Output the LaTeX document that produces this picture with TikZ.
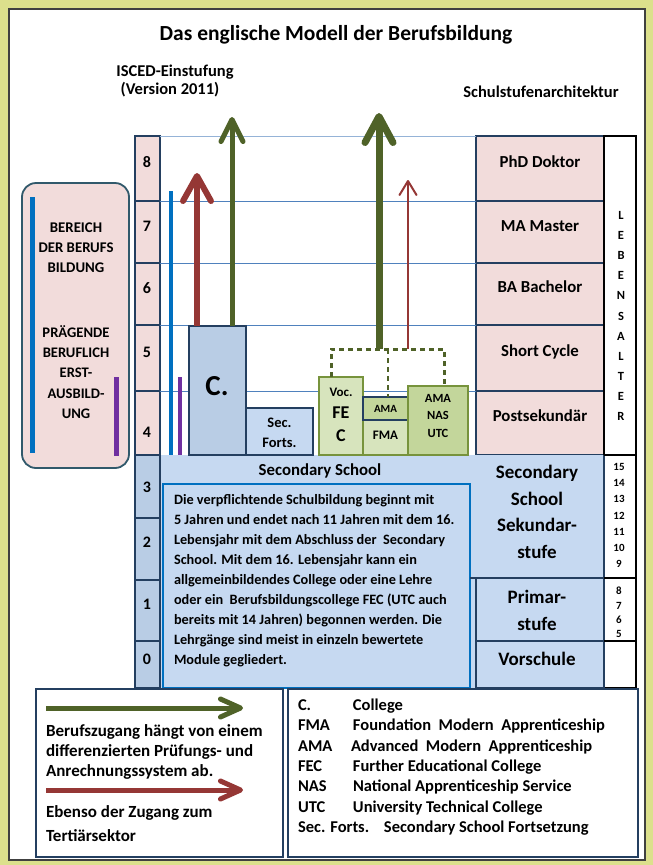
\documentclass[tikz,border=0pt]{standalone}
\usepackage{fontspec}
\setmainfont{Carlito}
\usetikzlibrary{arrows.meta,calc}
\definecolor{bgy}{HTML}{DCE08C}
\definecolor{pinkc}{HTML}{F2DCDB}
\definecolor{navy}{HTML}{243F60}
\definecolor{blc}{HTML}{B9CDE5}
\definecolor{lbl}{HTML}{C6D9F1}
\definecolor{hl}{HTML}{4F81BD}
\definecolor{hltop}{HTML}{95B3D7}
\definecolor{lgreen}{HTML}{D7E4BD}
\definecolor{mgreen}{HTML}{C3D69B}
\definecolor{gborder}{HTML}{77933C}
\definecolor{dgreen}{HTML}{4F6228}
\definecolor{dred}{HTML}{953735}
\definecolor{vblue}{HTML}{0070C0}
\definecolor{vpurple}{HTML}{7030A0}
\definecolor{tealb}{HTML}{31596B}
\newcommand\cellbox[7]{\node[#6,anchor=north west,minimum width={(#4)-(#2)},minimum height={(#5)-(#3)}] (#1) at (#2,#3) {#7};}
\tikzset{
  every node/.style={inner sep=0pt,outer sep=0pt},
  f/.style 2 args={font=\bfseries\fontsize{#1}{#2}\selectfont},
  bx/.style={draw=navy,line width=2pt},
  pk/.style={bx,fill=pinkc},
  bc/.style={bx,fill=blc},
  gbox/.style={draw=gborder,line width=1.5pt},
  hline/.style={draw=hl,line width=1pt},
  redbig/.style={draw=dred,line width=6pt,-{Straight Barb[length=25pt,width=28pt,round]}},
  greenL/.style={draw=dgreen,line width=5pt,-{Straight Barb[length=22pt,width=22pt,round]}},
  greenM/.style={draw=dgreen,line width=7pt,-{Straight Barb[length=26pt,width=28pt,round]}},
  redthin/.style={draw=dred,line width=2pt,-{Straight Barb[length=14pt,width=17pt,round]}},
  legG/.style={draw=dgreen,line width=5pt,-{Straight Barb[length=20pt,width=18pt,round]}},
  legR/.style={draw=dred,line width=5pt,-{Straight Barb[length=20pt,width=18pt,round]}},
  dashg/.style={draw=dgreen,line width=3pt,dash pattern=on 5pt off 4pt},
}
\begin{document}
\begin{tikzpicture}[x=1pt,y=-1pt]
\useasboundingbox (0,0) rectangle (653,865);
\fill[bgy] (0,0) rectangle (653,865);
\node[draw=black!75,line width=1.2pt,fill=white,anchor=north west,minimum width=636,minimum height=851] (panel) at (9,9) {};

% titles
\node[f={21.5}{26}] (title) at (336,35) {Das englische Modell der Berufsbildung};
\node[f={16.5}{19}] (isced) at (175,72) {ISCED-Einstufung};
\node[f={16.5}{19}] (version) at (170,90) {(Version 2011)};
\node[f={16.5}{19}] (schul) at (541,92) {Schulstufenarchitektur};

% ISCED column
\cellbox{i8}{135}{136}{160}{201}{pk}{}
\cellbox{i7}{135}{201}{160}{263}{pk}{}
\cellbox{i6}{135}{263}{160}{325}{pk}{}
\cellbox{i5}{135}{325}{160}{391}{pk}{}
\cellbox{i4}{135}{391}{160}{455}{pk}{}
\cellbox{i3}{135}{455}{160}{518}{bc}{}
\cellbox{i2}{135}{518}{160}{580}{bc}{}
\cellbox{i1}{135}{580}{160}{641}{bc}{}
\cellbox{i0}{135}{641}{160}{688}{bc}{}
\node[f={16}{18}] (n8) at (147,162) {8};
\node[f={16}{18}] (n7) at (147,226) {7};
\node[f={16}{18}] (n6) at (147,288) {6};
\node[f={16}{18}] (n5) at (147,352) {5};
\node[f={16}{18}] (n4) at (147,432) {4};
\node[f={16}{18}] (n3) at (147,487) {3};
\node[f={16}{18}] (n2) at (147,542) {2};
\node[f={16}{18}] (n1) at (147,604) {1};
\node[f={16}{18}] (n0) at (147,659) {0};

% right column (tertiary)
\cellbox{phd}{476}{136}{604}{201}{pk}{}
\cellbox{ma}{476}{201}{604}{263}{pk}{}
\cellbox{ba}{476}{263}{604}{325}{pk}{}
\cellbox{sc}{476}{325}{604}{391}{pk}{}
\cellbox{post}{476}{391}{604}{455}{pk}{}
\node[f={16.8}{20}] (tphd) at (540,162) {PhD Doktor};
\node[f={16.8}{20}] (tma) at (540,226) {MA Master};
\node[f={16.8}{20}] (tba) at (540,287) {BA Bachelor};
\node[f={16.8}{20}] (tsc) at (540,352) {Short Cycle};
\node[f={16.8}{20}] (tpost) at (540,416) {Postsekundär};

% horizontal grid lines
\draw[draw=hltop,line width=1pt] (i8.north east) -- (phd.north west);
\draw[hline] (i7.north east) -- (ma.north west);
\draw[hline] (i6.north east) -- (ba.north west);
\draw[hline] (i5.north east) -- (sc.north west);
\draw[hline] (i4.north east) -- (post.north west);

% age column
\cellbox{age}{604}{136}{636}{688}{draw=black,line width=1.3pt,fill=white}{}
\node[f={12.5}{20.1},align=center] (leben) at (621,316) {L\\E\\B\\E\\N\\S\\A\\L\\T\\E\\R};

% secondary school area
\cellbox{sec}{161}{455}{604}{688}{fill=lbl}{}
\cellbox{secR}{476}{455}{604}{578}{fill=lbl}{}
\cellbox{pri}{476}{578}{604}{641}{bx,fill=lbl}{}
\cellbox{vor}{476}{641}{604}{688}{bx,fill=lbl}{}
\cellbox{txt}{163}{484}{470}{688}{draw=vblue,line width=1.5pt,fill=lbl}{}
\draw[navy,line width=2pt] (txt.east |- secR.south) -- (secR.south east);
\draw[navy,line width=2pt] (secR.north east) -- (secR.south east);
\draw[black,line width=1.3pt] (secR.north east) -- (secR.north east -| age.east);
\draw[black,line width=1.3pt] (pri.north east) -- (pri.north east -| age.east);
\draw[black,line width=1.3pt] (vor.north east) -- (vor.north east -| age.east);
\node[f={16.8}{20}] (sechead) at (320,471) {Secondary School};
\node[f={19}{26.6},align=center] (secrt) at (537,512) {Secondary\\School\\Sekundar-\\stufe};
\node[f={19}{27},align=center] (prit) at (537,610.5) {Primar-\\stufe};
\node[f={19}{22}] (vort) at (537,659) {Vorschule};
\node[f={11}{16.3},align=center] (ages1) at (619,515.5) {15\\14\\13\\12\\11\\10\\9};
\node[f={11}{14.3},align=center] (ages2) at (619,612.5) {8\\7\\6\\5};
\node[f={14.3}{20},align=left,anchor=north west] (para) at (174,494) {Die verpflichtende Schulbildung beginnt mit\\
5 Jahren und endet nach 11 Jahren mit dem 16.\\
Lebensjahr mit dem Abschluss der\ \ Secondary\\
School. Mit dem 16. Lebensjahr kann ein\\
allgemeinbildendes College oder eine Lehre\\
oder ein\ \ Berufsbildungscollege FEC (UTC auch\\
bereits mit 14 Jahren) begonnen werden. Die\\
Lehrgänge sind meist in einzeln bewertete\\
Module gegliedert.};

% left rounded box
\node[draw=tealb,line width=1.8pt,fill=pinkc,rounded corners=14pt,anchor=north west,minimum width=107,minimum height=285] (lbox) at (22,183) {};
\draw[vblue,line width=5pt] (32,197) -- (32,453);
\draw[vpurple,line width=5pt] (116,377) -- (116,456);
\node[f={14.8}{20},align=center] (lt1) at (76,248) {BEREICH\\DER BERUFS\\BILDUNG};
\node[f={14.6}{20.2},align=center] (lt2) at (76,372) {PRÄGENDE\\BERUFLICH\\ERST-\\AUSBILD-\\UNG};

% vertical bars next to ISCED column
\draw[vblue,line width=4pt] (171,191) -- (171,455);
\draw[vpurple,line width=4pt] (180,377) -- (180,455);

% boxes level 4/5
\cellbox{cbox}{189}{326}{246}{455}{bx,fill=blc}{}
\node[f={29}{32}] (ctext) at (217,386) {C.};
\cellbox{sf}{246}{408}{313}{455}{bx,fill=lbl,line width=1.8pt}{}
\node[f={14.5}{20},align=center] (sft) at (279.5,433) {Sec.\\Forts.};
\cellbox{voc}{319}{377}{363}{455}{gbox,fill=lgreen}{}
\node[f={13}{15}] (voct) at (341,392) {Voc.};
\node[f={18}{20}] (fet) at (341,413) {FE};
\node[f={18}{20}] (cct) at (341,436) {C};
\cellbox{fma}{363}{420}{408}{455}{gbox,fill=lgreen}{}
\cellbox{ama}{363}{397}{408}{420}{draw=navy,line width=1.5pt,fill=mgreen}{}
\node[f={11}{13}] (amat) at (385.5,409) {AMA};
\node[f={13}{15}] (fmat) at (385.5,435) {FMA};
\cellbox{nas}{408}{386}{468}{455}{gbox,fill=mgreen}{}
\node[f={12.5}{17.5},align=center] (nast) at (438,415.5) {AMA\\NAS\\UTC};

% dashed bracket
\coordinate (bl) at (331,349);
\coordinate (bm) at (388,349);
\coordinate (br) at (444,349);
\draw[dashg] (bl |- voc.north) -- (bl) -- (br) -- (br |- nas.north);
\draw[dashg,line width=2pt] (bm) -- (bm |- ama.north);

% arrows
\coordinate (redtip) at (197,173);
\coordinate (greentip) at (232,117);
\coordinate (gmbase) at (379,349);
\coordinate (gmtip) at (379,113);
\coordinate (rtbase) at (408,349);
\coordinate (rttip) at (408,180);
\draw[redbig] (cbox.north west -| redtip) -- (redtip);
\draw[greenL] (cbox.north west -| greentip) -- (greentip);
\draw[greenM] (gmbase) -- (gmtip);
\draw[redthin] (rtbase) -- (rttip);

% legend
\cellbox{leg1}{36}{689}{283}{857}{draw=navy,line width=1.3pt,fill=white}{}
\cellbox{leg2}{288}{689}{638}{857}{draw=navy,line width=1.3pt,fill=white}{}
\coordinate (lg1a) at (46,708);
\coordinate (lg1b) at (243,708);
\coordinate (lg2a) at (46,790);
\coordinate (lg2b) at (243,790);
\draw[legG] (lg1a) -- (lg1b);
\draw[legR] (lg2a) -- (lg2b);
\node[f={17}{20},align=left,anchor=west] (legt1) at (46,752) {Berufszugang hängt von einem\\differenzierten Prüfungs- und\\Anrechnungssystem ab.};
\node[f={17}{24},align=left,anchor=west] (legt2) at (46,824) {Ebenso der Zugang zum\\Tertiärsektor};
\node[f={16.5}{20.3},align=left,anchor=north west] (legt3) at (298,699) {\makebox[55pt][l]{C.}College\\
\makebox[55pt][l]{FMA}Foundation\ \ Modern\ \ Apprenticeship\\
\makebox[53pt][l]{AMA}Advanced\ \ Modern\ \ Apprenticeship\\
\makebox[55pt][l]{FEC}Further Educational College\\
\makebox[55pt][l]{NAS}National Apprenticeship Service\\
\makebox[55pt][l]{UTC}University Technical College\\
\makebox[86pt][l]{Sec. Forts.}Secondary School Fortsetzung};
\end{tikzpicture}
\end{document}
